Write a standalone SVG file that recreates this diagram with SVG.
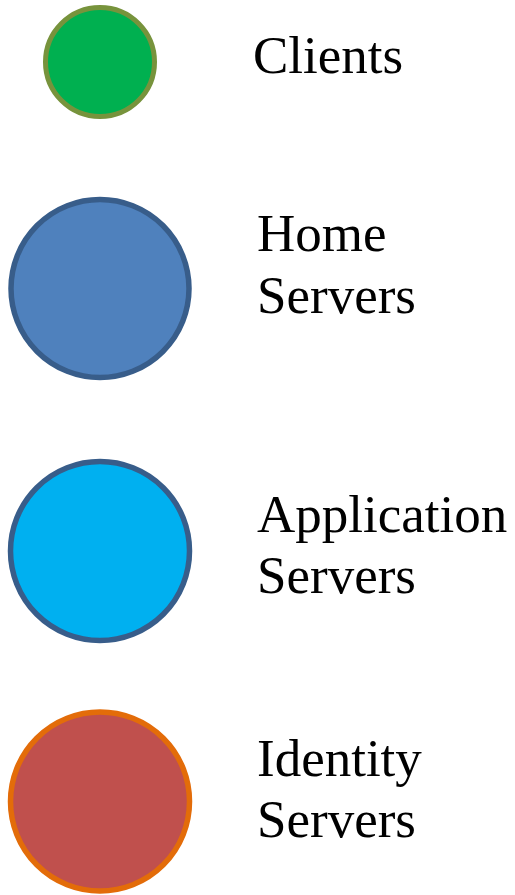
<svg xmlns="http://www.w3.org/2000/svg" width="515" height="895" viewBox="0 0 515 895">
<style>
.lbl{font-family:"Liberation Serif","Times New Roman",serif;font-size:53px;fill:#000}
.big{stroke-width:5.5}
</style>
<rect width="515" height="895" fill="#fff"/>
<g id="clients">
<circle cx="100" cy="62" r="54.5" fill="#00B050" stroke="#77933C" stroke-width="5"/>
<text class="lbl" x="253" y="73">Clients</text>
</g>
<g id="home-servers">
<circle class="big" cx="100" cy="288.5" r="89" fill="#4F81BD" stroke="#385D8A"/>
<text class="lbl" x="257" y="251">Home</text>
<text class="lbl" x="257" y="313">Servers</text>
</g>
<g id="application-servers">
<circle class="big" cx="100" cy="551" r="89.5" fill="#00B0F0" stroke="#385D8A"/>
<text class="lbl" x="257" y="532">Application</text>
<text class="lbl" x="257" y="593">Servers</text>
</g>
<g id="identity-servers">
<circle class="big" cx="100" cy="801.5" r="89.5" fill="#C0504D" stroke="#E36C09"/>
<text class="lbl" x="257" y="776">Identity</text>
<text class="lbl" x="257" y="837">Servers</text>
</g>
<g id="connectors"/>
</svg>
